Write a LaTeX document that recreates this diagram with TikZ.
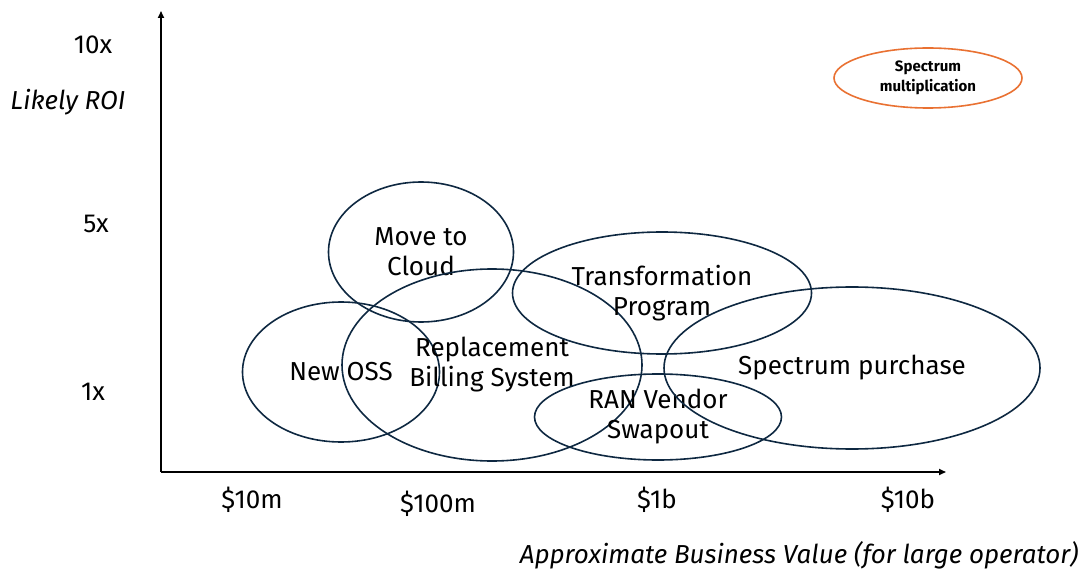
\documentclass[tikz,border=0pt]{standalone}
\usepackage{fontspec}
\setmainfont{Fira Sans}
\usetikzlibrary{shapes.geometric,positioning,arrows.meta}
\definecolor{roinavy}{HTML}{0E2841}
\definecolor{roiorange}{HTML}{E97132}
\tikzstyle{axis} = [line width=1.6pt,-{Triangle[length=7pt,width=6pt]},color=black]
\tikzstyle{bubble} = [ellipse, draw=roinavy, line width=1.6pt, inner sep=0pt, align=center, font=\fontsize{26}{30}\selectfont]
\tikzstyle{ticklabel} = [font=\fontsize{26}{30}\selectfont]

\begin{document}
\begin{tikzpicture}[x=1pt,y=-1pt]
    \useasboundingbox (0,0) rectangle (1086,569);

    % Axes
    \coordinate (origin) at (161,472);
    \coordinate (ytop) at (161,11);
    \coordinate (xend) at (946,472);
    \draw[axis] (origin) -- (ytop);
    \draw[axis] (origin) -- (xend);

    % ROI labels
    \node[ticklabel] (r10) at (93,45) {10x};
    \node[ticklabel, font=\fontsize{26}{30}\selectfont\itshape] (ylabel) at (68,102) {Likely ROI};
    \node[ticklabel] (r5) at (96,224) {5x};
    \node[ticklabel] (r1) at (93,392) {1x};

    % Value labels
    \node[ticklabel] (v10m) at (252,500) {\$10m};
    \node[ticklabel] (v100m) at (438,504) {\$100m};
    \node[ticklabel] (v1b) at (657,500) {\$1b};
    \node[ticklabel] (v10b) at (908,500) {\$10b};
    \node[ticklabel, font=\fontsize{26}{30}\selectfont\itshape, anchor=east] (xlabel) at (1082,555) {Approximate Business Value (for large operator)};

    % Initiatives
    \node[bubble, minimum width=185pt, minimum height=140pt] (cloud) at (421,252) {Move to\\Cloud};
    \node[bubble, minimum width=197pt, minimum height=140pt] (oss) at (341,372) {New OSS};
    \node[bubble, minimum width=300pt, minimum height=192pt] (billing) at (492,365) {Replacement\\Billing System};
    \node[bubble, minimum width=299pt, minimum height=122pt] (transform) at (662,293) {Transformation\\Program};
    \node[bubble, minimum width=247pt, minimum height=86pt] (ran) at (658,417) {RAN Vendor\\Swapout};
    \node[bubble, minimum width=376pt, minimum height=162pt] (spectrum) at (852,368) {Spectrum purchase};

    % Outlier
    \node[ellipse, draw=roiorange, line width=1.6pt, inner sep=0pt, align=center, font=\fontsize{15}{20}\selectfont\bfseries, minimum width=188pt, minimum height=60pt] (multiply) at (928,78) {Spectrum\\multiplication};
\end{tikzpicture}
\end{document}
